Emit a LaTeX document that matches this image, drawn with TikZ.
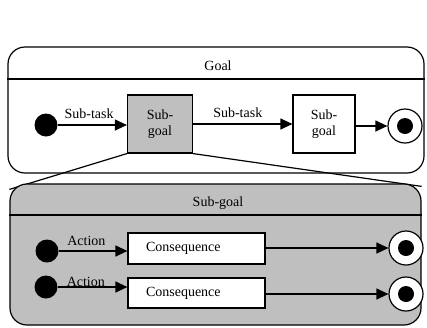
\documentclass[tikz,border=0pt]{standalone}
\usepackage{fontspec}
\setmainfont{Liberation Serif}
\usetikzlibrary{arrows.meta,backgrounds}

\begin{document}
\begin{tikzpicture}[x=1pt,y=-1pt,line width=1.2pt,
  font=\fontsize{14}{16}\selectfont,
  trans/.style={-{Triangle[length=12pt,width=11pt]}},
  frame/.style={draw,rounded corners=17pt,inner sep=0pt},
  state/.style={draw,fill=white,inner sep=0pt},
  cons/.style={state,align=left,minimum height=31pt,inner xsep=18pt,text width=101pt},
  start/.style={circle,fill=black,minimum size=23pt,inner sep=0pt},
  stop/.style={circle,draw,fill=white,minimum size=34pt,inner sep=0pt,
    path picture={\fill[black] (path picture bounding box.center) circle (8pt);}},
  lbl/.style={inner sep=1pt}]
  \useasboundingbox (0,0) rectangle (427,327);

  % goal
  \node[frame,minimum width=416pt,minimum height=126pt] (goal) at (216,110) {};
  \node (goaltitle) at (218,66) {Goal};
  \draw (goal.west |- 0,79) -- (goal.east |- 0,79);
  \node[start] (i0) at (46,125) {};
  \node[state,fill=black!25,minimum width=65pt,minimum height=58pt,align=center] (sg1) at (160,124) {Sub-\\goal};
  \node[state,minimum width=62pt,minimum height=58pt,align=center] (sg2) at (324,124) {Sub-\\goal};
  \node[stop] (e0) at (405,126) {};
  \draw[trans] (i0) -- (i0 -| sg1.west) node[lbl,pos=.45,above=5pt] {Sub-task};
  \draw[trans] (sg1) -- (sg2) node[lbl,pos=.45,above=5pt] {Sub-task};
  \draw[trans] (sg2.east |- e0) -- (e0);

  % sub-goal
  \node[frame,fill=black!25,minimum width=411pt,minimum height=141pt] (sub) at (215.5,254.5) {};
  \node (subtitle) at (218,203) {Sub-goal};
  \draw (sub.west |- 0,215) -- (sub.east |- 0,215);
  \node[start] (i1) at (47,251) {};
  \node[start] (i2) at (46,287) {};
  \node[cons] (c1) at (196.5,248.5) {Consequence};
  \node[cons,minimum height=30pt] (c2) at (196.5,293) {Consequence};
  \node[stop] (e1) at (406,248) {};
  \node[stop] (e2) at (406,294) {};
  \draw[trans] (i1) -- (i1 -| c1.west) node[lbl,pos=.4,above=4pt] {Action};
  \draw[trans] (i2) -- (i2 -| c2.west) node[pos=.4,anchor=base,inner sep=0pt,yshift=1pt] {Action};
  \draw[trans] (c1.east |- e1) -- (e1);
  \draw[trans] (c2.east |- e2) -- (e2);

  \begin{pgfonlayer}{background}
    \draw[line width=1.2pt] (sg1.south west) -- ([yshift=-6pt]sub.north west);
    \draw[line width=1.2pt] (sg1.south east) -- ([yshift=-3pt]sub.north east);
  \end{pgfonlayer}
\end{tikzpicture}
\end{document}
